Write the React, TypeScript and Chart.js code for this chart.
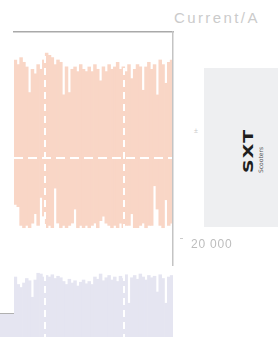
import React, { useEffect, useRef } from "react";
import { Chart, registerables } from "chart.js";
Chart.register(...registerables);

const categories = Array.from({ length: 56 }, (_, i) => `t${i + 1}`);
const currentTop = [
  88, 86, 89, 87, 85, 74, 84, 82, 86, 84, 88, 91, 90, 89, 86, 88, 87, 73, 85, 74,
  84, 85, 83, 86, 84, 83, 85, 83, 86, 84, 79, 85, 83, 86, 84, 85, 87, 84, 85, 83,
  86, 80, 84, 86, 85, 75, 85, 87, 84, 86, 73, 88, 86, 78, 87, 88,
];
const currentBottom = [
  26, 25, 17, 16, 17, 16, 18, 22, 17, 29, 21, 16, 17, 16, 33, 18, 16, 17, 16, 17,
  18, 24, 16, 17, 16, 17, 16, 17, 18, 16, 19, 21, 18, 17, 16, 17, 16, 18, 16, 17,
  17, 22, 16, 16, 17, 18, 16, 17, 17, 34, 24, 17, 16, 28, 17, 18,
];
const lowerSeries = [
  80, 70, 66, 72, 78, 75, 53, 76, 85, 84, 80, 82, 80, 83, 78, 81, 79, 74, 70, 77,
  72, 75, 68, 73, 76, 71, 74, 70, 80, 77, 84, 75, 79, 82, 76, 80, 74, 81, 78, 83,
  45, 79, 82, 77, 84, 80, 76, 82, 79, 81, 60, 83, 78, 45, 80, 82,
];
const gridXTicks = [19.5, 69.2];
const gridYTicks = [46];

const ORANGE = "#f9d6c6";
const LAVENDER = "#e5e5f1";

function gridScaleX() {
  return {
    type: "linear",
    position: "bottom",
    min: 0,
    max: 100,
    offset: false,
    afterBuildTicks: (s: any) => {
      s.ticks = gridXTicks.map((v) => ({ value: v }));
    },
    ticks: { display: false },
    grid: { color: "#ffffff", lineWidth: 2, drawTicks: false, offset: false, z: 1 },
    border: { display: false, dash: [7, 5] },
  };
}

function TopChart() {
  const ref = useRef<HTMLCanvasElement>(null);
  useEffect(() => {
    const chart = new Chart(ref.current!, {
      type: "bar",
      data: {
        labels: categories,
        datasets: [
          {
            data: currentTop.map((t, i) => [currentBottom[i], t]),
            backgroundColor: ORANGE,
            borderWidth: 0,
            barPercentage: 1,
            categoryPercentage: 1,
            xAxisID: "x",
            yAxisID: "y",
          },
        ],
      },
      options: {
        responsive: false,
        animation: false,
        layout: { padding: { left: 4, top: 4, right: 7, bottom: 8 } },
        plugins: { legend: { display: false }, tooltip: { enabled: false } },
        scales: {
          x: {
            type: "category",
            position: "top",
            ticks: { display: false },
            grid: { display: false, drawTicks: false },
            border: { display: true, color: "#a9a9a9", width: 1.5, z: 3 },
          },
          xg: gridScaleX(),
          y: {
            type: "linear",
            position: "right",
            min: 0,
            max: 100,
            afterBuildTicks: (s: any) => {
              s.ticks = gridYTicks.map((v) => ({ value: v }));
            },
            ticks: { display: false },
            grid: { color: "#ffffff", lineWidth: 2, drawTicks: false, z: 1 },
            border: { display: true, color: "#c4c4c4", width: 1.5, dash: [9, 5], z: 3 },
          },
        },
      } as any,
    });
    return () => chart.destroy();
  }, []);
  return (
    <canvas
      ref={ref}
      width={170}
      height={245}
      style={{ position: "absolute", left: 10, top: 28, width: 170, height: 245 }}
    />
  );
}

function BottomChart() {
  const ref = useRef<HTMLCanvasElement>(null);
  useEffect(() => {
    const chart = new Chart(ref.current!, {
      type: "bar",
      data: {
        labels: categories,
        datasets: [
          {
            data: lowerSeries,
            backgroundColor: LAVENDER,
            borderWidth: 0,
            barPercentage: 1,
            categoryPercentage: 1,
            xAxisID: "x",
            yAxisID: "y",
          },
        ],
      },
      options: {
        responsive: false,
        animation: false,
        layout: { padding: { left: 4, top: 4, right: 7, bottom: 4 } },
        plugins: { legend: { display: false }, tooltip: { enabled: false } },
        scales: {
          x: { type: "category", display: false },
          xg: gridScaleX(),
          y: { type: "linear", display: false, min: 0, max: 100 },
        },
      } as any,
    });
    return () => chart.destroy();
  }, []);
  return (
    <canvas
      ref={ref}
      width={170}
      height={83}
      style={{ position: "absolute", left: 10, top: 258, width: 170, height: 83 }}
    />
  );
}

export default function App() {
  return (
    <div
      style={{
        position: "fixed",
        left: 0,
        top: 0,
        width: 278,
        height: 337,
        overflow: "hidden",
        background: "#ffffff",
        fontFamily: "'Liberation Sans', Arial, sans-serif",
      }}
    >
      <div style={{ position: "absolute", left: 0, top: 313, width: 14, height: 1, background: "#b0b0b0" }} />
      <div style={{ position: "absolute", left: 0, top: 314, width: 14, height: 23, background: LAVENDER }} />
      <TopChart />
      <BottomChart />
      <div
        style={{
          position: "absolute",
          left: 174,
          top: 9,
          fontSize: 15,
          lineHeight: "18px",
          color: "#cbcbcb",
          letterSpacing: 2.4,
          whiteSpace: "nowrap",
        }}
      >
        Current/A
      </div>
      <div style={{ position: "absolute", left: 194, top: 127, fontSize: 7, color: "#c8c8c8" }}>±</div>
      <div style={{ position: "absolute", left: 204, top: 68, width: 74, height: 159, background: "#eeeff1" }} />
      <div
        style={{
          position: "absolute",
          left: 256 - 28,
          top: 148 - 10,
          width: 56,
          height: 20,
          transform: "rotate(-90deg)",
          transformOrigin: "28px 10px",
        }}
      >
        <div
          style={{
            position: "absolute",
            left: 3,
            top: -4,
            fontFamily: "'DejaVu Sans', sans-serif",
            fontWeight: 700,
            fontSize: 19,
            lineHeight: "19px",
            color: "#1e1e1e",
            letterSpacing: 1,
            transform: "scale(1, 0.7)",
            transformOrigin: "left top",
            whiteSpace: "nowrap",
          }}
        >
          SXT
        </div>
        <div
          style={{
            position: "absolute",
            left: 3,
            top: 11,
            fontFamily: "'DejaVu Sans', sans-serif",
            fontSize: 6,
            lineHeight: "7px",
            color: "#555",
            whiteSpace: "nowrap",
          }}
        >
          Scooters
        </div>
      </div>
      <div style={{ position: "absolute", left: 180, top: 238, width: 3, height: 1, background: "#cccccc" }} />
      <div
        style={{
          position: "absolute",
          left: 191,
          top: 237,
          fontSize: 12,
          lineHeight: "14px",
          color: "#bdbdbd",
          letterSpacing: 0.8,
          whiteSpace: "nowrap",
        }}
      >
        20 000
      </div>
    </div>
  );
}
